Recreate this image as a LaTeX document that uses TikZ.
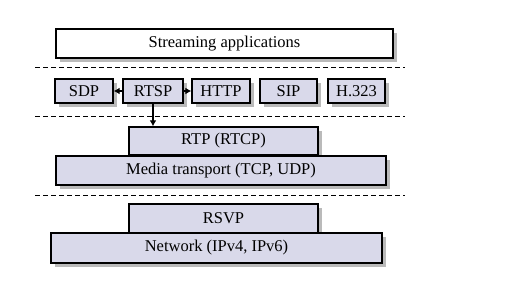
\documentclass[tikz,border=0pt]{standalone}
\usepackage{fontspec}
\setmainfont{Liberation Serif}
\usetikzlibrary{arrows.meta,shadows}
\definecolor{layerfill}{RGB}{217,217,234}
\tikzset{
	layer/.style={draw=black, line width=1.4pt, fill=layerfill, inner sep=0pt,
		font=\fontsize{16.5}{18}\selectfont,
		drop shadow={shadow xshift=4pt, shadow yshift=-4pt, fill=black!27, opacity=1}},
	sep/.style={line width=1pt, dash pattern=on 5pt off 3pt},
	link/.style={line width=1.2pt, -{Latex[length=6pt,width=7pt]}}
}

\begin{document}
\begin{tikzpicture}[x=1pt, y=-1pt]
			%%%%% START %%%%%
			\useasboundingbox (0, 0) rectangle (508, 291);
			
			\node[layer, fill=white, minimum width=337pt, minimum height=29pt] (apps) at (224.5, 43.5) {Streaming applications};
			
			\draw[sep] (35, 68) -- (405, 68);
			
			\node[layer, minimum width=58pt, minimum height=24pt] (sdp) at (84, 91) {SDP};
			\node[layer, minimum width=60pt, minimum height=24pt] (rtsp) at (153, 91) {RTSP};
			\node[layer, minimum width=58pt, minimum height=24pt] (http) at (221, 91) {HTTP};
			\node[layer, minimum width=57pt, minimum height=24pt] (sip) at (288.5, 91) {SIP};
			\node[layer, minimum width=57pt, minimum height=24pt] (h323) at (356.5, 91) {H.323};
			
			\draw[sep] (35, 117) -- (405, 117);
			
			\node[layer, minimum width=189pt, minimum height=28pt] (rtp) at (223.5, 141) {RTP (RTCP)};
			\node[layer, minimum width=330pt, minimum height=29pt] (media) at (221, 170.5) {Media transport (TCP, UDP)};
			
			\draw[sep] (35, 195) -- (405, 195);
			
			\node[layer, minimum width=189pt, minimum height=29pt] (rsvp) at (223.5, 218.5) {RSVP};
			\node[layer, minimum width=331pt, minimum height=30pt] (net) at (216.5, 248) {Network (IPv4, IPv6)};
			
			% RTSP talks to its neighbours and down to RTP
			\draw[link] (rtsp.west) -- (sdp.east);
			\draw[link] (rtsp.east) -- (http.west);
			\draw[link] (rtsp.south) -- (rtsp.south |- rtp.north);
			
			%%%%% END %%%%%
\end{tikzpicture}
\end{document}
